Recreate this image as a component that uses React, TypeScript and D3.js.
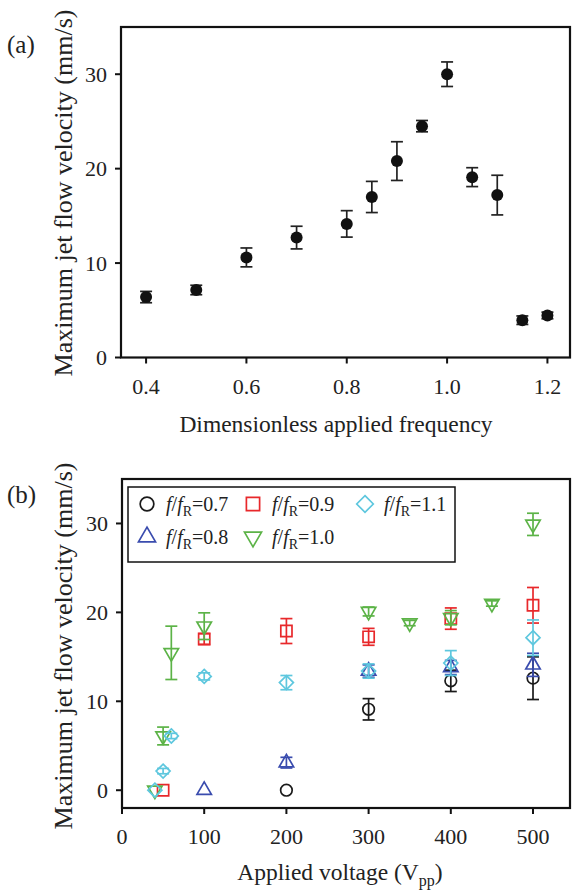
import * as d3 from 'd3'

// panel (a): max jet flow velocity vs dimensionless frequency
const freqs = [0.4, 0.5, 0.6, 0.7, 0.8, 0.85, 0.9, 0.95, 1.0, 1.05, 1.1, 1.15, 1.2]
const freqVel = [6.4, 7.15, 10.6, 12.7, 14.15, 17.0, 20.8, 24.5, 30.0, 19.1, 17.2, 3.95, 4.45]
const freqErr = [0.6, 0.5, 1.0, 1.2, 1.4, 1.65, 2.05, 0.6, 1.3, 1.0, 2.1, 0.45, 0.35]
const aXTicks = [0.4, 0.6, 0.8, 1.0, 1.2]
const aYTicks = [0, 10, 20, 30]

// panel (b): max jet flow velocity vs applied voltage, per f/fR
const r07Volt = [200, 300, 400, 500]
const r07Vel = [0, 9.1, 12.3, 12.6]
const r07Err = [0, 1.2, 1.2, 2.4]

const r08Volt = [100, 200, 300, 400, 500]
const r08Vel = [0, 3.1, 13.4, 13.8, 14.1]
const r08Err = [0, 0.6, 0.7, 0.8, 1.3]

const r09Volt = [50, 100, 200, 300, 400, 500]
const r09Vel = [0, 17.0, 17.9, 17.25, 19.3, 20.8]
const r09Err = [0, 0.6, 1.4, 0.95, 1.2, 2.0]

const r10Volt = [40, 50, 60, 100, 300, 350, 400, 450, 500]
const r10Vel = [0, 6.1, 15.45, 18.45, 20.1, 18.8, 19.4, 21.0, 29.9]
const r10Err = [0, 1.0, 3.0, 1.5, 0.5, 0.3, 0.8, 0.3, 1.25]

const r11Volt = [40, 50, 60, 100, 200, 300, 400, 500]
const r11Vel = [0, 2.15, 6.1, 12.8, 12.1, 13.4, 14.3, 17.15]
const r11Err = [0, 0.3, 0.3, 0.4, 0.8, 0.8, 1.4, 2.0]

const bXTicks = [0, 100, 200, 300, 400, 500]
const bYTicks = [0, 10, 20, 30]

const font = '"Liberation Serif", "Times New Roman", serif'

const series = [
  { name: '0.7', volt: r07Volt, vel: r07Vel, err: r07Err, color: '#1a1a1a', shape: 'circle' },
  { name: '0.8', volt: r08Volt, vel: r08Vel, err: r08Err, color: '#3a4cae', shape: 'up' },
  { name: '0.9', volt: r09Volt, vel: r09Vel, err: r09Err, color: '#e8282b', shape: 'square' },
  { name: '1.0', volt: r10Volt, vel: r10Vel, err: r10Err, color: '#5cb347', shape: 'down' },
  { name: '1.1', volt: r11Volt, vel: r11Vel, err: r11Err, color: '#5ec7de', shape: 'diamond' },
]

const symbolPath = (shape: string, k = 1) => {
  if (shape === 'circle') return d3.symbol(d3.symbolCircle, 105 * k)()
  if (shape === 'square') return d3.symbol(d3.symbolSquare, 125 * k)()
  if (shape === 'diamond') return d3.symbol(d3.symbolDiamond2, 125 * k)()
  return d3.symbol(d3.symbolTriangle, 90 * k)()
}

const Marker = ({ shape, x, y, color, k = 1 }) => (
  <path
    d={symbolPath(shape, k)}
    transform={`translate(${x},${y})${shape === 'down' ? ' rotate(180)' : ''}`}
    fill="none"
    stroke={color}
    strokeWidth={1.7}
  />
)

const ErrBar = ({ x, y0, y1, color, w = 6 }) => (
  <g stroke={color} strokeWidth={1.7}>
    <path d={`M ${x} ${y0} V ${y1}`} />
    <path d={`M ${x - w} ${y0} H ${x + w}`} />
    <path d={`M ${x - w} ${y1} H ${x + w}`} />
  </g>
)

const Frame = ({ x, y, xTicks, yTicks, xFmt }) => {
  const [l, r] = x.range()
  const [b, t] = y.range()
  return (
    <g>
      <rect x={l} y={t} width={r - l} height={b - t} fill="none" stroke="#111" strokeWidth={2.2} />
      {xTicks.map(v => (
        <g key={v}>
          <path d={`M ${x(v)} ${b} V ${b + 6}`} stroke="#111" strokeWidth={2} />
          <text x={x(v)} y={b + 36} fontSize={22} textAnchor="middle" fill="#222">
            {xFmt(v)}
          </text>
        </g>
      ))}
      {yTicks.map(v => (
        <g key={v}>
          <path d={`M ${l - 6} ${y(v)} H ${l}`} stroke="#111" strokeWidth={2} />
          <text x={l - 14} y={y(v) + 7.5} fontSize={22} textAnchor="end" fill="#222">
            {v}
          </text>
        </g>
      ))}
    </g>
  )
}

const LegendLabel = ({ x, y, value }) => (
  <text x={x} y={y} fontSize={20} fill="#222">
    <tspan fontStyle="italic">f</tspan>
    <tspan>/</tspan>
    <tspan fontStyle="italic">f</tspan>
    <tspan fontSize={14} dy={5}>R</tspan>
    <tspan dy={-5}>={value}</tspan>
  </text>
)

export default function App() {
  const xA = d3.scaleLinear().domain([0.35, 1.245]).range([121, 570])
  const yA = d3.scaleLinear().domain([0, 35]).range([357.5, 27])
  const xB = d3.scaleLinear().domain([0, 545]).range([122, 570])
  const yB = d3.scaleLinear().domain([-2, 35]).range([808, 479])

  const legendPos = [
    [147, 505],
    [147, 538],
    [253, 505],
    [253, 538],
    [365, 505],
  ]

  return (
    <svg
      width={572}
      height={893}
      style={{ position: 'absolute', left: 0, top: 0, background: '#fff' }}
      fontFamily={font}
    >
      {/* (a) */}
      <text x={7} y={53} fontSize={25} fill="#222">(a)</text>
      <Frame x={xA} y={yA} xTicks={aXTicks} yTicks={aYTicks} xFmt={d3.format('.1f')} />
      {freqs.map((f, i) => (
        <g key={f}>
          <ErrBar
            x={xA(f)}
            y0={yA(freqVel[i] + freqErr[i])}
            y1={yA(freqVel[i] - freqErr[i])}
            color="#222"
          />
          <circle cx={xA(f)} cy={yA(freqVel[i])} r={6} fill="#111" />
        </g>
      ))}
      <text x={336} y={432} fontSize={23.5} textAnchor="middle" fill="#222">
        Dimensionless applied frequency
      </text>
      <text
        transform="translate(72,193) rotate(-90)"
        fontSize={26}
        textAnchor="middle"
        fill="#222"
      >
        Maximum jet flow velocity (mm/s)
      </text>

      {/* (b) */}
      <text x={7} y={503} fontSize={25} fill="#222">(b)</text>
      <Frame x={xB} y={yB} xTicks={bXTicks} yTicks={bYTicks} xFmt={d => d} />
      {series.map(s => (
        <g key={s.name}>
          {s.volt.map((v, i) =>
            s.err[i] > 0 ? (
              <ErrBar
                key={'e' + v}
                x={xB(v)}
                y0={yB(s.vel[i] + s.err[i])}
                y1={yB(s.vel[i] - s.err[i])}
                color={s.color}
              />
            ) : null
          )}
          {s.volt.map((v, i) => (
            <Marker key={'m' + v} shape={s.shape} x={xB(v)} y={yB(s.vel[i])} color={s.color} />
          ))}
        </g>
      ))}
      <rect x={128} y={487} width={327} height={75} fill="#fff" stroke="#111" strokeWidth={1.5} />
      {series.map((s, i) => (
        <g key={s.name}>
          <Marker shape={s.shape} x={legendPos[i][0]} y={legendPos[i][1] - 1} color={s.color} k={1.4} />
          <LegendLabel x={legendPos[i][0] + 19} y={legendPos[i][1] + 6} value={s.name} />
        </g>
      ))}
      <text x={340} y={880} fontSize={23.5} textAnchor="middle" fill="#222">
        Applied voltage (V
        <tspan fontSize={16} dy={6}>pp</tspan>
        <tspan dy={-6}>)</tspan>
      </text>
      <text
        transform="translate(72,646) rotate(-90)"
        fontSize={26}
        textAnchor="middle"
        fill="#222"
      >
        Maximum jet flow velocity (mm/s)
      </text>
    </svg>
  )
}
